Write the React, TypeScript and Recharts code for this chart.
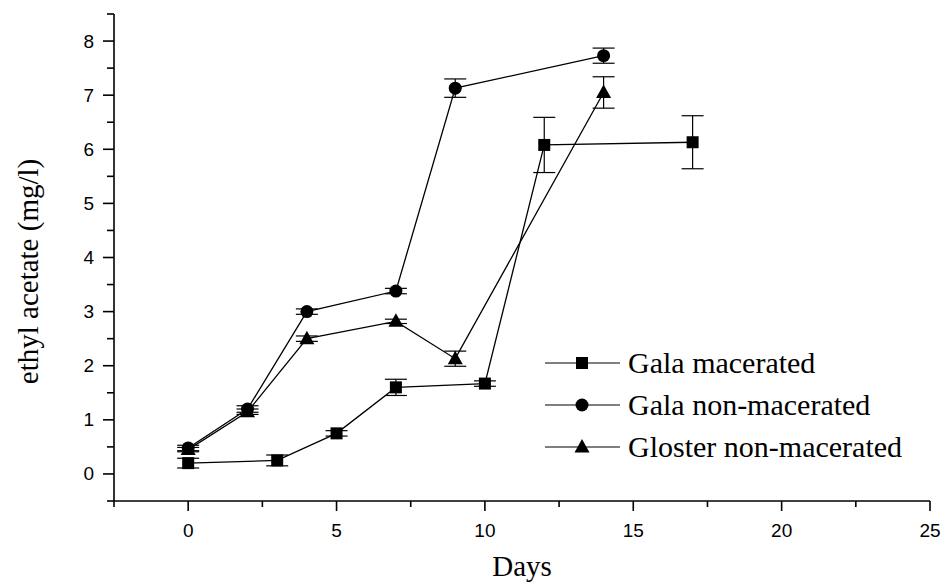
import React from 'react';
import { LineChart, Line, XAxis, YAxis, ErrorBar, Legend, Label } from 'recharts';

const galaMacDays = [0, 3, 5, 7, 10, 12, 17];
const galaMacValues = [0.2, 0.25, 0.75, 1.6, 1.67, 6.08, 6.13];
const galaMacErrors = [0.09, 0.1, 0.05, 0.15, 0.05, 0.51, 0.49];

const galaNonDays = [0, 2, 4, 7, 9, 14];
const galaNonValues = [0.48, 1.2, 3.0, 3.38, 7.13, 7.73];
const galaNonErrors = [0.05, 0.06, 0.05, 0.05, 0.17, 0.14];

const glosterDays = [0, 2, 4, 7, 9, 14];
const glosterValues = [0.45, 1.15, 2.5, 2.82, 2.13, 7.05];
const glosterErrors = [0.04, 0.05, 0.05, 0.04, 0.14, 0.29];

const seriesNames = ['Gala macerated', 'Gala non-macerated', 'Gloster non-macerated'];

const xTicks = [-2.5, 0, 2.5, 5, 7.5, 10, 12.5, 15, 17.5, 20, 22.5, 25];
const yTicks = [-0.5, 0, 0.5, 1, 1.5, 2, 2.5, 3, 3.5, 4, 4.5, 5, 5.5, 6, 6.5, 7, 7.5, 8, 8.5];

const build = (days: number[], vals: number[], errs: number[]) =>
  days.map((d, i) => ({ x: d, v: vals[i], e: errs[i] }));

const galaMacData = build(galaMacDays, galaMacValues, galaMacErrors);
const galaNonData = build(galaNonDays, galaNonValues, galaNonErrors);
const glosterData = build(glosterDays, glosterValues, glosterErrors);

const SANS = '"Liberation Sans", Arial, Helvetica, sans-serif';
const SERIF = '"Liberation Serif", "Times New Roman", Times, serif';

type Shape = 'square' | 'circle' | 'triangle';

const drawMarker = (shape: Shape, cx: number, cy: number, key?: string) => {
  if (shape === 'square') {
    return <rect key={key} x={cx - 6} y={cy - 6} width={12} height={12} fill="#000" />;
  }
  if (shape === 'circle') {
    return <circle key={key} cx={cx} cy={cy} r={6.5} fill="#000" />;
  }
  return (
    <polygon
      key={key}
      points={`${cx},${cy - 8} ${cx - 7.5},${cy + 5.5} ${cx + 7.5},${cy + 5.5}`}
      fill="#000"
    />
  );
};

const makeDot = (shape: Shape) => (props: any) => {
  const { cx, cy, index } = props;
  if (cx == null || cy == null) return <g key={`${shape}-${index}`} />;
  return drawMarker(shape, cx, cy, `${shape}-${index}`);
};

const XTick = (props: any) => {
  const { x, y, payload } = props;
  const v = payload.value;
  const major = Math.abs(v % 5) < 1e-9;
  return (
    <g>
      <line x1={x} x2={x} y1={y} y2={y + (major ? 10 : 6)} stroke="#000" strokeWidth={1.6} />
      {major && (
        <text x={x} y={y + 36} textAnchor="middle" fontFamily={SANS} fontSize={19} fill="#000">
          {v}
        </text>
      )}
    </g>
  );
};

const YTick = (props: any) => {
  const { x, y, payload } = props;
  const v = payload.value;
  const major = Math.abs(v % 1) < 1e-9;
  return (
    <g>
      <line x1={x} x2={x - (major ? 11 : 7)} y1={y} y2={y} stroke="#000" strokeWidth={1.6} />
      {major && (
        <text x={x - 20} y={y} textAnchor="end" dominantBaseline="central" fontFamily={SANS} fontSize={19} fill="#000">
          {v}
        </text>
      )}
    </g>
  );
};

const shapeByName: Record<string, Shape> = {
  [seriesNames[0]]: 'square',
  [seriesNames[1]]: 'circle',
  [seriesNames[2]]: 'triangle',
};

const LegendContent = (props: any) => {
  const payload = (props.payload || []) as any[];
  const order = seriesNames.filter((n) => payload.some((p) => p.value === n));
  return (
    <svg width={400} height={130} style={{ overflow: 'visible' }}>
      {order.map((name, i) => {
        const cy = 23 + i * 42;
        return (
          <g key={name}>
            <line x1={5} x2={80} y1={cy} y2={cy} stroke="#000" strokeWidth={1.2} />
            {drawMarker(shapeByName[name], 42, cy)}
            <text x={88} y={cy + 10} fontFamily={SERIF} fontSize={30} fill="#000">
              {name}
            </text>
          </g>
        );
      })}
    </svg>
  );
};

export default function App() {
  return (
    <div style={{ position: 'absolute', left: 0, top: 0, width: 944, height: 584, background: '#fff' }}>
      <LineChart width={944} height={584} margin={{ top: 14, right: 14, bottom: 0, left: 0 }}>
        <XAxis
          dataKey="x"
          type="number"
          domain={[-2.5, 25]}
          ticks={xTicks}
          interval={0}
          tickSize={0}
          tickMargin={0}
          tick={<XTick />}
          height={83}
          axisLine={{ stroke: '#000', strokeWidth: 1.6 }}
          tickLine={false}
          allowDataOverflow
        >
          <Label
            content={(p: any) => {
              const vb = p.viewBox;
              return (
                <text x={vb.x + vb.width / 2} y={vb.y + 75} textAnchor="middle" fontFamily={SERIF} fontSize={29} fill="#000">
                  Days
                </text>
              );
            }}
          />
        </XAxis>
        <YAxis
          type="number"
          domain={[-0.5, 8.5]}
          ticks={yTicks}
          interval={0}
          tickSize={0}
          tickMargin={0}
          tick={<YTick />}
          width={114}
          axisLine={{ stroke: '#000', strokeWidth: 1.6 }}
          tickLine={false}
          allowDataOverflow
        >
          <Label
            content={(p: any) => {
              const vb = p.viewBox;
              const cx = vb.x + 28;
              const cy = vb.y + vb.height / 2 + 14;
              return (
                <text
                  x={cx}
                  y={cy}
                  transform={`rotate(-90 ${cx} ${cy})`}
                  textAnchor="middle"
                  dominantBaseline="central"
                  fontFamily={SERIF}
                  fontSize={29}
                  fill="#000"
                >
                  ethyl acetate (mg/l)
                </text>
              );
            }}
          />
        </YAxis>
        <Legend
          layout="horizontal"
          verticalAlign="middle"
          align="center"
          wrapperStyle={{ left: 540, top: 340, width: 400, height: 130 }}
          content={<LegendContent />}
        />
        <Line
          data={galaMacData}
          dataKey="v"
          name={seriesNames[0]}
          stroke="#000"
          strokeWidth={1.3}
          dot={makeDot('square')}
          activeDot={false}
          isAnimationActive={false}
        >
          <ErrorBar dataKey="e" direction="y" width={11} stroke="#000" strokeWidth={1.2} />
        </Line>
        <Line
          data={galaNonData}
          dataKey="v"
          name={seriesNames[1]}
          stroke="#000"
          strokeWidth={1.3}
          dot={makeDot('circle')}
          activeDot={false}
          isAnimationActive={false}
        >
          <ErrorBar dataKey="e" direction="y" width={11} stroke="#000" strokeWidth={1.2} />
        </Line>
        <Line
          data={glosterData}
          dataKey="v"
          name={seriesNames[2]}
          stroke="#000"
          strokeWidth={1.3}
          dot={makeDot('triangle')}
          activeDot={false}
          isAnimationActive={false}
        >
          <ErrorBar dataKey="e" direction="y" width={11} stroke="#000" strokeWidth={1.2} />
        </Line>
      </LineChart>
    </div>
  );
}
